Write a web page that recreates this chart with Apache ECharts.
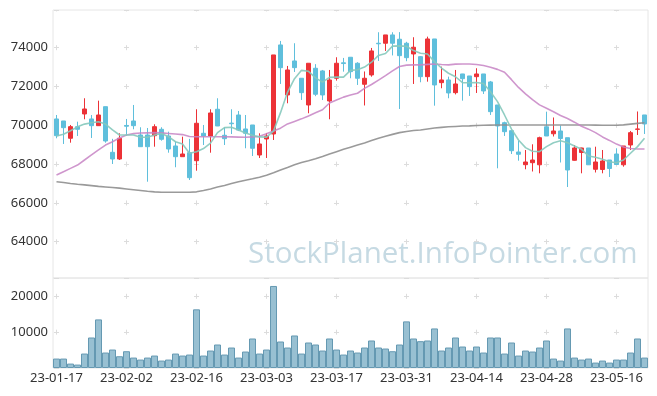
<!DOCTYPE html>
<html><head><meta charset="utf-8">
<script src="https://cdn.jsdelivr.net/npm/echarts@6/dist/echarts.min.js"></script>
<style>html,body{margin:0;padding:0;background:#fff}#c{width:657px;height:396px}</style>
</head><body><div id="c"></div>
<script>
const dates = ['23-01-17','23-01-18','23-01-19','23-01-20','23-01-25','23-01-26','23-01-27','23-01-30','23-01-31','23-02-01',
'23-02-02','23-02-03','23-02-06','23-02-07','23-02-08','23-02-09','23-02-10','23-02-13','23-02-14','23-02-15',
'23-02-16','23-02-17','23-02-20','23-02-21','23-02-22','23-02-23','23-02-24','23-02-27','23-02-28','23-03-02',
'23-03-03','23-03-06','23-03-07','23-03-08','23-03-09','23-03-10','23-03-13','23-03-14','23-03-15','23-03-16',
'23-03-17','23-03-20','23-03-21','23-03-22','23-03-23','23-03-24','23-03-27','23-03-28','23-03-29','23-03-30',
'23-03-31','23-04-03','23-04-04','23-04-05','23-04-06','23-04-07','23-04-10','23-04-11','23-04-12','23-04-13',
'23-04-14','23-04-17','23-04-18','23-04-19','23-04-20','23-04-21','23-04-24','23-04-25','23-04-26','23-04-27',
'23-04-28','23-05-02','23-05-03','23-05-04','23-05-08','23-05-09','23-05-10','23-05-11','23-05-12','23-05-15',
'23-05-16','23-05-17','23-05-18','23-05-19','23-05-22'];

const opens = [70325,70221,69330,69928,70582,70325,69979,70959,68607,68262,
 69990,70221,69500,69500,69464,69793,69448,68933,68381,68587,
 68175,69587,69448,70825,69484,70110,70530,69810,70015,68468,
 69294,69551,74139,71561,73314,72423,71046,72938,72800,71252,
 72423,73220,73505,73196,72113,72593,74227,74227,74655,74433,
 74227,73675,73536,72505,74448,72196,72335,71680,72644,72541,
 72505,72644,72232,71046,70134,69721,68623,67969,68072,67964,
 69922,69562,69706,69360,68195,68598,68830,67732,67721,68210,
 68520,67964,68984,69790,70531];

const closes = [69464,69876,69928,69793,70840,69979,70530,69190,68262,69330,
 69950,69979,68896,68896,69928,69278,68778,68381,68520,67299,
 70103,69448,70634,69964,69309,70080,69754,69587,68815,69036,
 69448,73624,72969,72850,72969,71680,73196,71598,71562,72335,
 73196,73180,72763,72423,72423,73830,74200,74655,74227,73587,
 73484,74021,72505,74448,72077,72335,71665,72129,72402,71990,
 72644,71768,70701,69964,69670,68690,68505,68108,68210,69360,
 69448,69706,69320,67696,68830,68830,67964,68108,68160,67773,
 67979,68933,69618,69810,70067];

const lows = [69330,69036,69103,69448,70309,69345,69964,69103,68005,68210,
 69448,69793,68890,67092,68896,69206,68587,67837,68381,67180,
 67659,68984,68587,69960,68984,69550,69700,68815,68417,68314,
 68314,69242,72129,71134,72747,71304,70618,71500,71300,70309,
 72300,72763,72423,72077,71020,72505,73314,73830,73600,70840,
 73300,72129,72216,72247,71010,71907,71392,71590,71268,71510,
 71665,71613,70531,67783,69450,68520,68175,67732,67618,67525,
 69448,69422,68082,66819,68175,67525,67953,67567,67525,67335,
 67953,67866,68726,69500,69551];

const highs = [70530,70221,70015,70185,71392,70530,71268,70960,69300,69587,
 70325,71046,69897,69860,70051,69897,69670,69154,69412,69300,
 70825,70015,70825,71392,69900,70825,70737,70530,70015,69587,
 69603,73624,74345,73057,74227,72423,73196,73150,72850,72850,
 73505,73470,73505,73250,72773,73985,74794,74655,74794,74800,
 74300,74536,73570,74567,74448,73021,72505,72850,72650,72541,
 72938,72644,72283,71046,70185,69721,69206,68726,69020,69412,
 70701,70402,69990,69360,68984,68845,68830,68896,68726,68210,
 68814,68933,69706,70711,70531];

const volumes = [2630,2630,1230,950,4030,8510,13550,4310,5150,3280,
 4680,2910,2350,2910,3470,2070,2350,4030,3470,3750,
 16360,3470,4870,6550,3750,5710,2910,4590,8230,4030,
 5150,22880,7390,5710,9070,4030,7110,6550,4870,8230,
 5150,3750,4870,4310,5710,7670,5710,5430,4680,6550,
 13000,8230,7480,7670,11030,4870,5710,8510,5990,4870,
 5990,4310,8510,8510,4030,7110,3470,4870,4590,5710,
 7670,2630,2070,11030,2910,2350,2630,1510,2070,1510,
 2350,2350,4310,8230,2910];

const maShort = [69448,69540,69720,69920,70060,70130,70180,70060,69760,69500,
 69500,69500,69380,69380,69500,69580,69410,69150,69030,68560,
 68640,68800,69080,69620,69880,69900,69760,69600,69480,69400,
 69390,69700,70650,71700,72400,72830,72780,72440,72220,72470,
 72480,72480,72830,72860,73000,73250,73600,73700,74080,74090,
 74070,73850,73710,73670,73280,72950,72680,72500,72200,72190,
 72200,72150,71730,71220,70530,69800,69240,68850,68660,68640,
 68900,69100,69200,69100,68930,68760,68420,68350,68250,68120,
 68070,68210,68560,68900,69330];

const maMid = [67440,67610,67780,67950,68210,68470,68730,68980,69150,69350,
 69500,69570,69600,69610,69620,69610,69580,69550,69520,69420,
 69410,69410,69410,69410,69410,69400,69390,69380,69400,69430,
 69560,69700,69850,70070,70200,70330,70480,70640,70800,71150,
 71300,71450,71560,71650,71900,72100,72330,72560,72800,73030,
 73100,73110,73110,73140,73160,73130,73110,73150,73160,73160,
 73130,73080,72990,72880,72730,72350,71950,71620,71320,71050,
 70880,70700,70500,70350,70160,69950,69800,69620,69400,69220,
 69030,68880,68800,68780,68780];

const maLong = [67090,67050,67000,66960,66930,66890,66850,66820,66790,66760,
 66720,66680,66640,66600,66570,66550,66545,66545,66545,66545,
 66570,66640,66720,66820,66900,67000,67090,67170,67240,67320,
 67420,67550,67690,67820,67960,68080,68170,68270,68390,68520,
 68640,68760,68870,68980,69090,69210,69330,69430,69530,69620,
 69680,69730,69760,69810,69860,69890,69920,69940,69960,69970,
 69990,70000,70010,70015,70015,70015,70015,70015,70015,70015,
 70015,70015,70015,70015,70015,70015,70015,70010,70000,70000,
 70000,70020,70060,70100,70130];

const watermark = 'StockPlanet.InfoPointer.com';

const candles = dates.map((d, i) => [opens[i], closes[i], lows[i], highs[i]]);
const UP = '#ec3237', DOWN = '#5fbfdc';
const crossColor = '#dcdcdc';
const labelStyle = {color: '#333', fontSize: 13, fontFamily: 'Noto Sans'};

const chart = echarts.init(document.getElementById('c'), null, {renderer: 'canvas'});
chart.setOption({
  animation: false,
  backgroundColor: '#fff',
  grid: [
    {left: 53, top: 10, width: 595, height: 268, show: true, borderColor: '#e6e6e6', borderWidth: 1},
    {left: 53, top: 278, width: 595, height: 90, show: true, borderColor: '#e6e6e6', borderWidth: 1}
  ],
  xAxis: [
    {type: 'category', gridIndex: 0, data: dates, boundaryGap: true,
     axisLine: {show: false}, axisTick: {show: false}, axisLabel: {show: false},
     splitLine: {show: true, interval: 9, alignWithLabel: true,
       lineStyle: {color: crossColor, width: 1, type: [5, 33.81], dashOffset: 3.61}}},
    {type: 'category', gridIndex: 1, data: dates, boundaryGap: true,
     axisLine: {show: false}, axisTick: {show: false},
     axisLabel: Object.assign({interval: 9, margin: 4}, labelStyle),
     splitLine: {show: true, interval: 9, alignWithLabel: true,
       lineStyle: {color: crossColor, width: 1, type: [5, 30.85], dashOffset: 20.05}}}
  ],
  yAxis: [
    {type: 'value', gridIndex: 0, min: 62130, max: 75940, splitNumber: 7,
     axisLine: {show: false}, axisTick: {show: false},
     axisLabel: Object.assign({showMinLabel: false, showMaxLabel: false, margin: 5, formatter: v => String(v)}, labelStyle),
     splitLine: {show: true, lineStyle: {color: crossColor, width: 1, type: [5, 65], dashOffset: 69}}},
    {type: 'value', gridIndex: 1, min: 0, max: 25100, interval: 10000,
     axisLine: {show: false}, axisTick: {show: false},
     axisLabel: Object.assign({showMinLabel: false, showMaxLabel: false, margin: 5, formatter: v => String(v)}, labelStyle),
     splitLine: {show: true, lineStyle: {color: crossColor, width: 1, type: [5, 65], dashOffset: 69}}}
  ],
  graphic: [{
    type: 'text', left: 248, top: 240, z: 1,
    style: {text: watermark, fontSize: 29.5, fontFamily: 'Open Sans', fill: '#c6dae3'}
  }],
  series: [
    {type: 'candlestick', xAxisIndex: 0, yAxisIndex: 0, data: candles, barWidth: 5,
     itemStyle: {color: UP, color0: DOWN, borderColor: UP, borderColor0: DOWN, borderWidth: 1}},
    {type: 'line', xAxisIndex: 0, yAxisIndex: 0, data: maLong, showSymbol: false, symbol: 'none',
     lineStyle: {color: '#8f8f8f', width: 1.6, opacity: 0.9}, z: 3},
    {type: 'line', xAxisIndex: 0, yAxisIndex: 0, data: maMid, showSymbol: false, symbol: 'none',
     lineStyle: {color: '#c784c4', width: 1.6, opacity: 0.85}, z: 3},
    {type: 'line', xAxisIndex: 0, yAxisIndex: 0, data: maShort, showSymbol: false, symbol: 'none',
     lineStyle: {color: '#86c9bc', width: 1.6, opacity: 0.9}, z: 3},
    {type: 'bar', xAxisIndex: 1, yAxisIndex: 1, data: volumes, barCategoryGap: '0%',
     itemStyle: {color: '#98c0d2', borderColor: '#6599b2', borderWidth: 1}}
  ]
});
</script></body></html>
